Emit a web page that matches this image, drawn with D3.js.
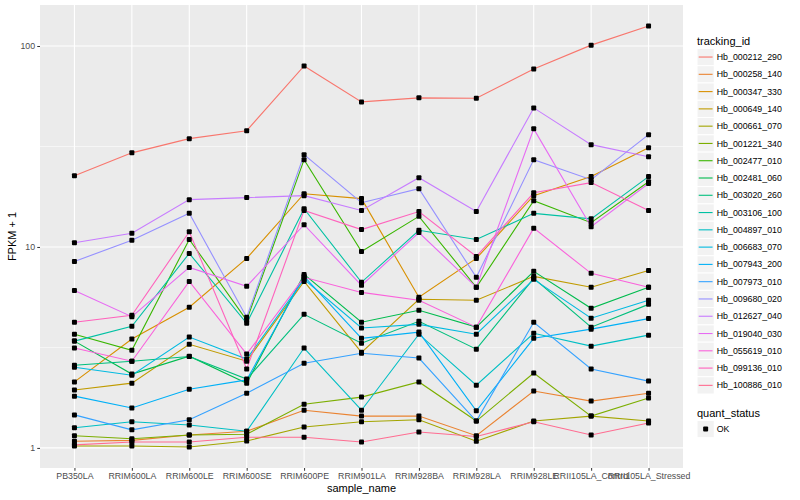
<!DOCTYPE html>
<html>
<head>
<meta charset="utf-8">
<script src="https://cdn.jsdelivr.net/npm/d3@7"></script>
<style>
body { margin: 0; background: #fff; }
text { font-family: "Liberation Sans", Arial, sans-serif; }
</style>
</head>
<body>
<div id="chart"></div>
<script>
// samples on the x axis
var samples = ["PB350LA", "RRIM600LA", "RRIM600LE", "RRIM600SE", "RRIM600PE", "RRIM901LA",
    "RRIM928BA", "RRIM928LA", "RRIM928LE", "RRII105LA_Control", "RRII105LA_Stressed"];

var trackingIds = ["Hb_000212_290", "Hb_000258_140", "Hb_000347_330", "Hb_000649_140", "Hb_000661_070",
    "Hb_001221_340", "Hb_002477_010", "Hb_002481_060", "Hb_003020_260", "Hb_003106_100",
    "Hb_004897_010", "Hb_006683_070", "Hb_007943_200", "Hb_007973_010", "Hb_009680_020",
    "Hb_012627_040", "Hb_019040_030", "Hb_055619_010", "Hb_099136_010", "Hb_100886_010"];

// FPKM + 1, one array per gene, same order as samples
var Hb_000212_290 = [22.6, 29.4, 34.6, 37.9, 79.6, 52.7, 55.2, 55.0, 76.9, 101, 125.7];
var Hb_000258_140 = [1.08, 1.09, 1.16, 1.21, 1.54, 1.44, 1.44, 1.15, 1.92, 1.71, 1.87];
var Hb_000347_330 = [2.13, 3.48, 5.01, 8.77, 18.4, 17.4, 5.62, 8.77, 18.0, 22.4, 31.2];
var Hb_000649_140 = [1.94, 2.10, 3.28, 2.70, 6.74, 2.99, 5.49, 5.43, 7.14, 6.30, 7.64];
var Hb_000661_070 = [1.023, 1.023, 1.011, 1.083, 1.27, 1.35, 1.38, 1.08, 1.36, 1.44, 1.36];
var Hb_001221_340 = [1.15, 1.11, 1.16, 1.17, 1.65, 1.79, 2.13, 1.36, 2.36, 1.44, 1.77];
var Hb_002477_010 = [3.68, 3.06, 10.9, 4.32, 27.2, 9.5, 14.2, 6.30, 17.0, 13.2, 21.1];
var Hb_002481_060 = [3.40, 2.33, 2.86, 2.10, 7.30, 4.22, 4.84, 3.99, 7.56, 4.95, 6.30];
var Hb_003020_260 = [2.58, 2.70, 2.85, 2.20, 4.62, 3.32, 4.27, 3.10, 6.98, 3.99, 5.18];
var Hb_003106_100 = [3.40, 4.03, 9.29, 4.17, 15.5, 6.67, 12.1, 10.9, 14.7, 13.8, 22.4];
var Hb_004897_010 = [1.26, 1.35, 1.30, 1.21, 3.14, 1.54, 3.68, 2.05, 3.72, 3.21, 3.64];
var Hb_006683_070 = [2.52, 2.30, 3.56, 2.77, 6.90, 3.95, 4.12, 3.68, 6.90, 4.42, 5.43];
var Hb_007943_200 = [1.81, 1.58, 1.96, 2.18, 7.14, 3.51, 3.77, 1.53, 3.51, 3.90, 4.40];
var Hb_007973_010 = [1.46, 1.23, 1.38, 1.87, 2.64, 2.96, 2.80, 1.36, 4.22, 2.47, 2.15];
var Hb_009680_020 = [8.47, 10.8, 14.7, 4.47, 28.8, 16.6, 19.5, 7.06, 27.2, 21.6, 36.2];
var Hb_012627_040 = [10.5, 11.7, 17.2, 17.6, 18.0, 15.2, 22.1, 15.0, 49.2, 32.3, 28.1];
var Hb_019040_030 = [6.08, 4.50, 7.91, 6.37, 12.9, 6.44, 11.8, 6.30, 38.7, 12.6, 20.7];
var Hb_055619_010 = [3.14, 2.70, 6.74, 2.93, 7.06, 5.94, 5.43, 3.99, 12.4, 7.39, 6.30];
var Hb_099136_010 = [4.22, 4.57, 11.9, 2.47, 15.2, 12.2, 15.0, 8.97, 18.6, 20.9, 15.2];
var Hb_100886_010 = [1.035, 1.07, 1.07, 1.13, 1.13, 1.07, 1.20, 1.14, 1.35, 1.16, 1.33];

var seriesValues = [Hb_000212_290, Hb_000258_140, Hb_000347_330, Hb_000649_140, Hb_000661_070,
    Hb_001221_340, Hb_002477_010, Hb_002481_060, Hb_003020_260, Hb_003106_100,
    Hb_004897_010, Hb_006683_070, Hb_007943_200, Hb_007973_010, Hb_009680_020,
    Hb_012627_040, Hb_019040_030, Hb_055619_010, Hb_099136_010, Hb_100886_010];

var quantStatus = ["OK"];
var yTicks = [1, 10, 100];
var yMinorTicks = [3.162, 31.62];

// ggplot hue palette for 20 groups
var hueColors = ["#F8766D", "#EA8331", "#D89000", "#C09B00", "#A3A500", "#7CAE00", "#39B600",
    "#00BB4E", "#00BF7D", "#00C1A3", "#00BFC4", "#00BAE0", "#00B0F6", "#35A2FF", "#9590FF",
    "#C77CFF", "#E76BF3", "#FA62DB", "#FF62BC", "#FF6C91"];

var w = 800, h = 500;
var panel = { left: 40, right: 683, top: 5, bottom: 468 };

var svg = d3.select("#chart").append("svg")
    .attr("width", w)
    .attr("height", h);

var color = d3.scaleOrdinal().domain(trackingIds).range(hueColors);

var x = d3.scalePoint()
    .domain(samples)
    .range([panel.left, panel.right])
    .padding(0.6);

// log scale with 5% expansion on the log10 range, like ggplot
var allVals = d3.merge(seriesValues);
var lmin = Math.log10(d3.min(allVals)), lmax = Math.log10(d3.max(allVals));
var pad = (lmax - lmin) * 0.05;
var y = d3.scaleLog()
    .domain([Math.pow(10, lmin - pad), Math.pow(10, lmax + pad)])
    .range([panel.bottom, panel.top]);

// panel background + grid
svg.append("rect")
    .attr("x", panel.left).attr("y", panel.top)
    .attr("width", panel.right - panel.left).attr("height", panel.bottom - panel.top)
    .attr("fill", "#EBEBEB");

svg.append("g").selectAll("line")
    .data(yMinorTicks)
    .enter().append("line")
    .attr("x1", panel.left).attr("x2", panel.right)
    .attr("y1", function(d) { return y(d); }).attr("y2", function(d) { return y(d); })
    .attr("stroke", "#fff").attr("stroke-width", 0.55);

svg.append("g").selectAll("line")
    .data(yTicks)
    .enter().append("line")
    .attr("x1", panel.left).attr("x2", panel.right)
    .attr("y1", function(d) { return y(d); }).attr("y2", function(d) { return y(d); })
    .attr("stroke", "#fff").attr("stroke-width", 1.1);

svg.append("g").selectAll("line")
    .data(samples)
    .enter().append("line")
    .attr("y1", panel.top).attr("y2", panel.bottom)
    .attr("x1", function(d) { return x(d); }).attr("x2", function(d) { return x(d); })
    .attr("stroke", "#fff").attr("stroke-width", 1.1);

// lines
var series = trackingIds.map(function(id, i) {
    return { id: id, values: seriesValues[i] };
});

var line = d3.line()
    .x(function(d, i) { return x(samples[i]); })
    .y(function(d) { return y(d); });

svg.append("g").selectAll("path")
    .data(series)
    .enter().append("path")
    .attr("d", function(d) { return line(d.values); })
    .attr("fill", "none")
    .attr("stroke", function(d) { return color(d.id); })
    .attr("stroke-width", 1.1);

// points on top
var pts = [];
series.forEach(function(s) {
    s.values.forEach(function(v, i) { pts.push({ sample: samples[i], value: v }); });
});

svg.append("g").selectAll("rect")
    .data(pts)
    .enter().append("rect")
    .attr("x", function(d) { return x(d.sample) - 2.5; })
    .attr("y", function(d) { return y(d.value) - 2.5; })
    .attr("width", 5).attr("height", 5)
    .attr("rx", 1)
    .attr("fill", "#000");

// axes
var yAxis = svg.append("g")
    .attr("transform", "translate(" + panel.left + ",0)")
    .call(d3.axisLeft(y).tickValues(yTicks).tickFormat(d3.format("d")).tickSize(2.75).tickPadding(2.2));

var xAxis = svg.append("g")
    .attr("transform", "translate(0," + panel.bottom + ")")
    .call(d3.axisBottom(x).tickSize(2.75).tickPadding(2.2));

[xAxis, yAxis].forEach(function(a) {
    a.select(".domain").remove();
    a.selectAll(".tick line").attr("stroke", "#333333");
    a.selectAll(".tick text")
        .attr("fill", "#4D4D4D")
        .style("font-size", "8.8px")
        .style("font-family", "'Liberation Sans', Arial, sans-serif");
});

svg.append("text")
    .attr("x", (panel.left + panel.right) / 2)
    .attr("y", 492)
    .attr("text-anchor", "middle")
    .style("font-size", "11px")
    .text("sample_name");

svg.append("text")
    .attr("transform", "translate(16," + ((panel.top + panel.bottom) / 2) + ") rotate(-90)")
    .attr("text-anchor", "middle")
    .style("font-size", "11px")
    .text("FPKM + 1");

// legend: tracking_id
var keyH = 17.28;
var lg = svg.append("g").attr("transform", "translate(697,0)");

lg.append("text")
    .attr("x", 0).attr("y", 45)
    .style("font-size", "11px")
    .text("tracking_id");

var keys = lg.selectAll("g.key")
    .data(trackingIds)
    .enter().append("g")
    .attr("class", "key")
    .attr("transform", function(d, i) { return "translate(0," + (48.4 + i * keyH) + ")"; });

keys.append("rect")
    .attr("width", keyH).attr("height", keyH)
    .attr("fill", "#F2F2F2").attr("stroke", "#fff");

keys.append("line")
    .attr("x1", 1.7).attr("x2", keyH - 1.7)
    .attr("y1", keyH / 2).attr("y2", keyH / 2)
    .attr("stroke", function(d) { return color(d); })
    .attr("stroke-width", 1.1);

keys.append("text")
    .attr("x", keyH + 2.5).attr("y", keyH / 2 + 3.1)
    .style("font-size", "8.8px")
    .text(function(d) { return d; });

// legend: quant_status
var lq = svg.append("g").attr("transform", "translate(697,0)");

lq.append("text")
    .attr("x", 0).attr("y", 417)
    .style("font-size", "11px")
    .text("quant_status");

var qk = lq.selectAll("g.qkey")
    .data(quantStatus)
    .enter().append("g")
    .attr("class", "qkey")
    .attr("transform", function(d, i) { return "translate(0," + (420.4 + i * keyH) + ")"; });

qk.append("rect")
    .attr("width", keyH).attr("height", keyH)
    .attr("fill", "#F2F2F2").attr("stroke", "#fff");

qk.append("rect")
    .attr("x", keyH / 2 - 2.5).attr("y", keyH / 2 - 2.5)
    .attr("width", 5).attr("height", 5).attr("rx", 1)
    .attr("fill", "#000");

qk.append("text")
    .attr("x", keyH + 2.5).attr("y", keyH / 2 + 3.1)
    .style("font-size", "8.8px")
    .text(function(d) { return d; });
</script>
</body>
</html>
